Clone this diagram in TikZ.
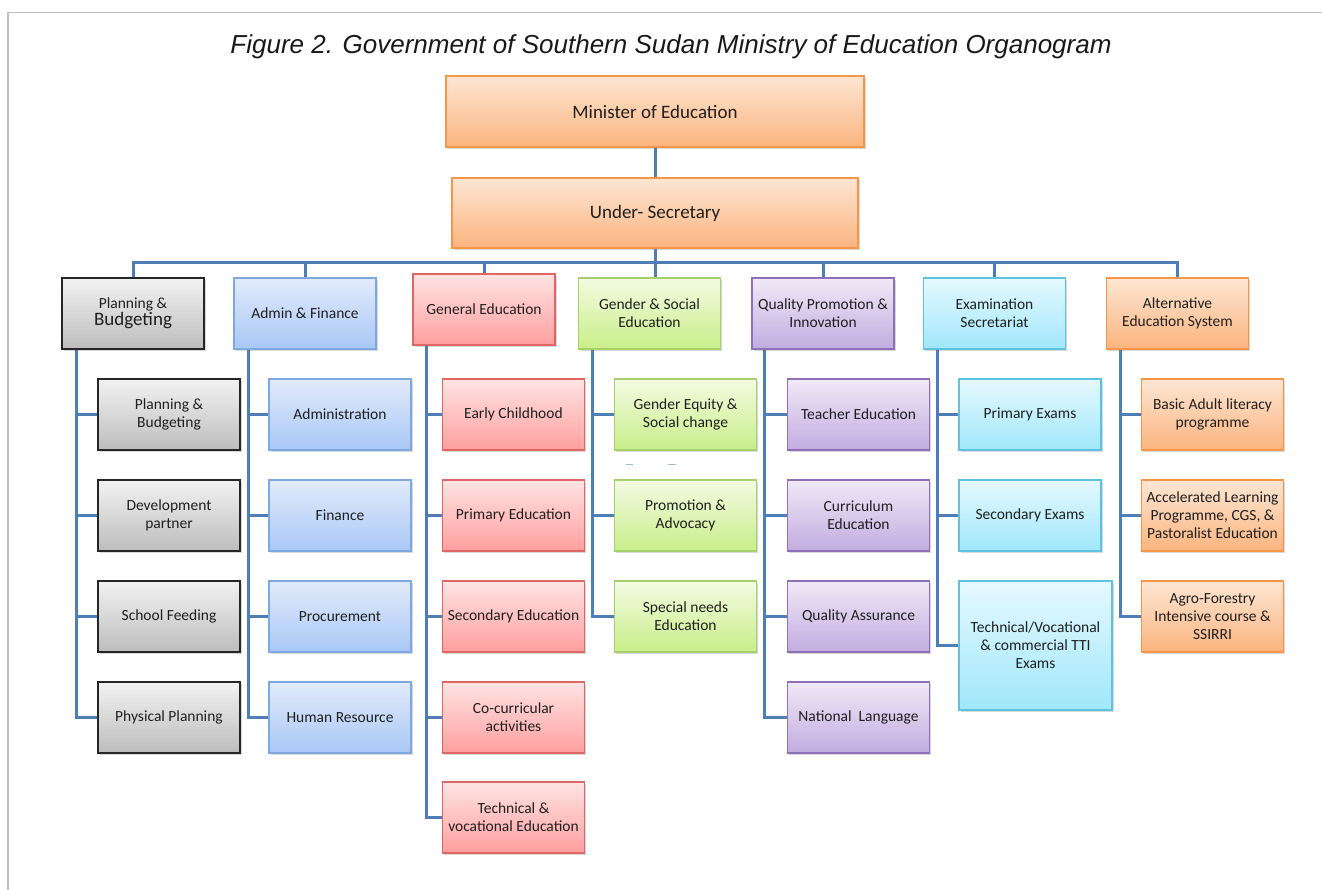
\documentclass[tikz,border=0pt]{standalone}
\usepackage{fontspec}
\setmainfont{Carlito}
\newfontfamily\titlefont{Liberation Sans}
\usetikzlibrary{shadows,backgrounds}

% box palettes: top fill, bottom fill, border
\definecolor{orT}{HTML}{FDE6D3}\definecolor{orB}{HTML}{FBB47F}\definecolor{orD}{HTML}{F79646}
\definecolor{gyT}{HTML}{F2F2F2}\definecolor{gyB}{HTML}{BDBDBD}\definecolor{gyD}{HTML}{262626}
\definecolor{blT}{HTML}{E2EBFB}\definecolor{blB}{HTML}{A9C7F6}\definecolor{blD}{HTML}{7EA8E0}
\definecolor{rdT}{HTML}{FFE4E4}\definecolor{rdB}{HTML}{FF9E9E}\definecolor{rdD}{HTML}{E06666}
\definecolor{gnT}{HTML}{F3FBE2}\definecolor{gnB}{HTML}{C9EE8A}\definecolor{gnD}{HTML}{A6D16A}
\definecolor{puT}{HTML}{F0E9F7}\definecolor{puB}{HTML}{C2ACE0}\definecolor{puD}{HTML}{8E6FBA}
\definecolor{cyT}{HTML}{E6F9FF}\definecolor{cyB}{HTML}{A0E7FB}\definecolor{cyD}{HTML}{5EC3E0}
\definecolor{wire}{HTML}{4F7DB5}
\definecolor{frame}{HTML}{C0C0C0}

\tikzset{
  x=1pt, y=-1pt,
  unit/.style={rectangle, line width=1.2pt, align=center, inner sep=1pt,
    text=black!88, font=\fontsize{15.5}{18}\selectfont,
    minimum width=142pt, minimum height=71pt,
    drop shadow={shadow xshift=1.5pt, shadow yshift=-2pt, opacity=0.25, fill=black!60}},
  orangebox/.style={unit, draw=orD, top color=orT, bottom color=orB},
  graybox/.style={unit, draw=gyD, top color=gyT, bottom color=gyB},
  bluebox/.style={unit, draw=blD, top color=blT, bottom color=blB},
  redbox/.style={unit, draw=rdD, top color=rdT, bottom color=rdB},
  greenbox/.style={unit, draw=gnD, top color=gnT, bottom color=gnB},
  purplebox/.style={unit, draw=puD, top color=puT, bottom color=puB},
  cyanbox/.style={unit, draw=cyD, top color=cyT, bottom color=cyB},
  wirestyle/.style={draw=wire, line width=3pt, line join=miter},
}

\begin{document}
\begin{tikzpicture}
\useasboundingbox (0,0) rectangle (1322,890);

% page frame
\draw[frame, line width=1.6pt] (8,890) -- (8,12.5) -- (1322,12.5);

% heading
\node[font=\titlefont\itshape\fontsize{26}{30}\selectfont, text=black!90, inner sep=0pt]
  (heading) at (671,47) {Figure 2. Government of Southern Sudan Ministry of Education Organogram};

% top of hierarchy
\node[orangebox, minimum width=418pt, font=\fontsize{19}{22}\selectfont] (minister) at (655,111.5) {Minister of Education};
\node[orangebox, minimum width=406pt, minimum height=70pt, font=\fontsize{19}{22}\selectfont] (usec) at (655,213) {Under- Secretary};

% directorates
\node[graybox]   (pb) at (133,313.5) {Planning \&\\[-1pt]{\fontsize{19}{20}\selectfont Budgeting}};
\node[bluebox]   (af) at (305,313.5) {Admin \& Finance};
\node[redbox]    (ge) at (484,309.5) {General Education};
\node[greenbox]  (gs) at (649.5,313.5) {Gender \& Social\\Education};
\node[purplebox] (qp) at (823,313.5) {Quality Promotion \&\\Innovation};
\node[cyanbox]   (es) at (994.5,313.5) {Examination\\Secretariat};
\node[orangebox] (ae) at (1177.5,313.5) {Alternative\\Education System};

% planning & budgeting units
\node[graybox] (pb1) at (169,414.5) {Planning \&\\Budgeting};
\node[graybox] (pb2) at (169,515.5) {Development\\partner};
\node[graybox] (pb3) at (169,616.5) {School Feeding};
\node[graybox] (pb4) at (169,717.5) {Physical Planning};

% admin & finance units
\node[bluebox] (af1) at (340,414.5) {Administration};
\node[bluebox] (af2) at (340,515.5) {Finance};
\node[bluebox] (af3) at (340,616.5) {Procurement};
\node[bluebox] (af4) at (340,717.5) {Human Resource};

% general education units
\node[redbox] (ge1) at (513.5,414.5) {Early Childhood};
\node[redbox] (ge2) at (513.5,515.5) {Primary Education};
\node[redbox] (ge3) at (513.5,616.5) {Secondary Education};
\node[redbox] (ge4) at (513.5,717.5) {Co-curricular\\activities};
\node[redbox] (ge5) at (513.5,817.5) {Technical \&\\vocational Education};

% gender & social education units
\node[greenbox] (gs1) at (685.5,414.5) {Gender Equity \&\\Social change};
\node[greenbox] (gs2) at (685.5,515.5) {Promotion \&\\Advocacy};
\node[greenbox] (gs3) at (685.5,616.5) {Special needs\\Education};

% quality promotion units
\node[purplebox] (qp1) at (858.5,414.5) {Teacher Education};
\node[purplebox] (qp2) at (858.5,515.5) {Curriculum\\Education};
\node[purplebox] (qp3) at (858.5,616.5) {Quality Assurance};
\node[purplebox] (qp4) at (858.5,717.5) {National\ \ Language};

% examination units
\node[cyanbox] (es1) at (1030,414.5) {Primary Exams};
\node[cyanbox] (es2) at (1030,515.5) {Secondary Exams};
\node[cyanbox, minimum width=153pt, minimum height=129pt] (es3) at (1035.5,645.5) {Technical/Vocational\\\& commercial TTI\\Exams};

% alternative education units
\node[orangebox] (ae1) at (1212.5,414.5) {Basic Adult literacy\\programme};
\node[orangebox] (ae2) at (1212.5,515.5) {Accelerated Learning\\Programme, CGS, \&\\Pastoralist Education};
\node[orangebox] (ae3) at (1212.5,616.5) {Agro-Forestry\\Intensive course \&\\SSIRRI};

% stray marks under the gender column
\draw[blD!80, line width=1pt] (626,464.5) -- (633,464.5) (668,464.5) -- (676,464.5);

\begin{pgfonlayer}{background}
  \fill[white] (0,0) rectangle (1322,890);
  % spine and bus
  \coordinate (bus) at (655,263);
  \draw[wirestyle] (minister.south) -- (usec.north);
  \draw[wirestyle] (usec.south) -- (usec.south |- bus);
  \draw[wirestyle] (pb.north) -- (pb.north |- bus) -- (ae.north |- bus) -- (ae.north);
  \foreach \d in {af,ge,qp,es} \draw[wirestyle] (\d.north) -- (\d.north |- bus);
  \draw[wirestyle] (usec.south |- bus) -- (usec.south |- gs.north);

  % column spines
  \coordinate (pbS) at ([xshift=15pt]pb.south west);
  \coordinate (afS) at ([xshift=15pt]af.south west);
  \coordinate (geS) at ([xshift=14pt]ge.south west);
  \coordinate (gsS) at ([xshift=15pt]gs.south west);
  \coordinate (qpS) at ([xshift=13pt]qp.south west);
  \coordinate (esS) at ([xshift=15pt]es.south west);
  \coordinate (aeS) at ([xshift=15pt]ae.south west);

  \draw[wirestyle] (pbS) |- (pb4.west);
  \foreach \u in {pb1,pb2,pb3} \draw[wirestyle] (pbS |- \u.west) -- (\u.west);
  \draw[wirestyle] (afS) |- (af4.west);
  \foreach \u in {af1,af2,af3} \draw[wirestyle] (afS |- \u.west) -- (\u.west);
  \draw[wirestyle] (geS) |- (ge5.west);
  \foreach \u in {ge1,ge2,ge3,ge4} \draw[wirestyle] (geS |- \u.west) -- (\u.west);
  \draw[wirestyle] (gsS) |- (gs3.west);
  \foreach \u in {gs1,gs2} \draw[wirestyle] (gsS |- \u.west) -- (\u.west);
  \draw[wirestyle] (qpS) |- (qp4.west);
  \foreach \u in {qp1,qp2,qp3} \draw[wirestyle] (qpS |- \u.west) -- (\u.west);
  \draw[wirestyle] (esS) |- (es3.west);
  \foreach \u in {es1,es2} \draw[wirestyle] (esS |- \u.west) -- (\u.west);
  \draw[wirestyle] (aeS) |- (ae3.west);
  \foreach \u in {ae1,ae2} \draw[wirestyle] (aeS |- \u.west) -- (\u.west);
\end{pgfonlayer}
\end{tikzpicture}
\end{document}
